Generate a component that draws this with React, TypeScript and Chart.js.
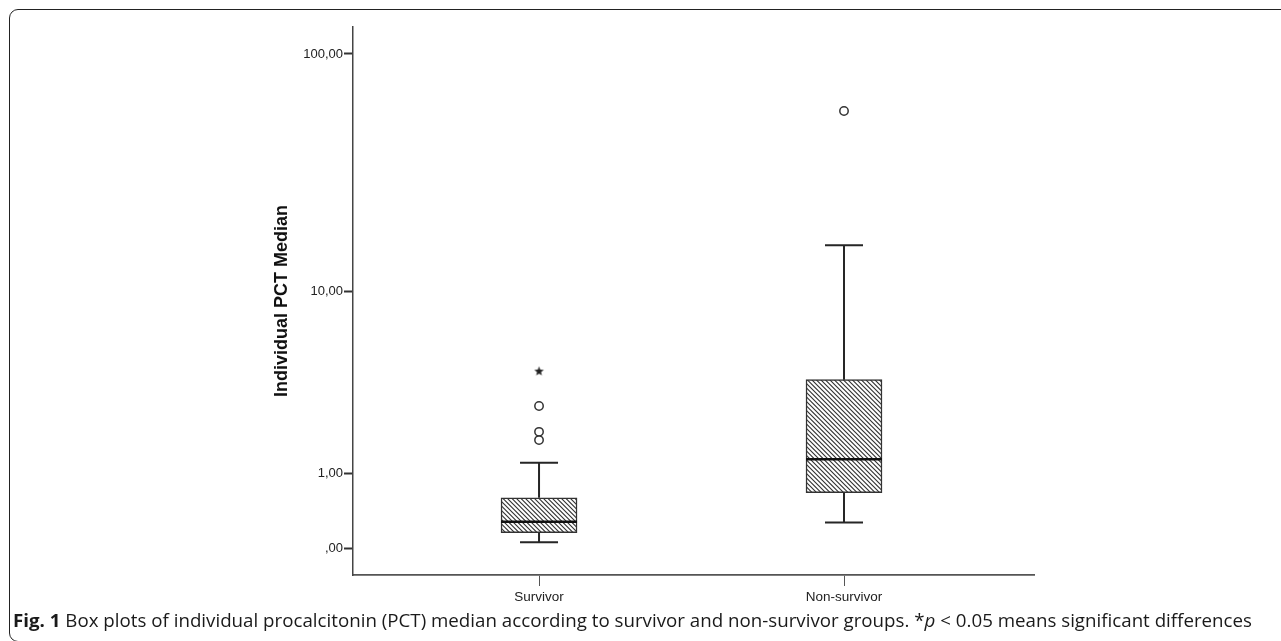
import React, { useEffect, useRef } from 'react';
import { Chart, registerables } from 'chart.js';

Chart.register(...registerables);

// ---- data (values in original units) ----
const categories = ['Survivor', 'Non-survivor'];
const q1 = [0.153, 0.675];
const medians = [0.278, 1.29];
const q3 = [0.598, 3.82];
const whiskerLow = [0.055, 0.27];
const whiskerHigh = [1.22, 15.9];
const outliersCircle = [[2.77, 1.96, 1.74], [58.3]];
const outliersStar = [[4.22], []];
const yTickValues = [0, 1, 10, 100];
const yTickLabels = [',00', '1,00', '10,00', '100,00'];

// SPSS-style log(x + 1) axis
const t = (v: number) => Math.log10(v + 1);

function makeHatch(): CanvasPattern | string {
  const s = 9;
  const c = document.createElement('canvas');
  c.width = s;
  c.height = s;
  const g = c.getContext('2d');
  if (!g) return '#fff';
  g.fillStyle = '#ffffff';
  g.fillRect(0, 0, s, s);
  g.strokeStyle = '#333';
  g.lineWidth = 1.15;
  g.beginPath();
  for (const k of [-9, -4.5, 0, 4.5, 9]) {
    g.moveTo(k - 1, -1);
    g.lineTo(k + s + 1, s + 1);
  }
  g.stroke();
  return g.createPattern(c, 'repeat') || '#fff';
}

function makeStar(): HTMLCanvasElement {
  const s = 11;
  const c = document.createElement('canvas');
  c.width = s;
  c.height = s;
  const g = c.getContext('2d');
  if (g) {
    g.fillStyle = '#222';
    g.beginPath();
    for (let i = 0; i < 10; i++) {
      const r = i % 2 === 0 ? 5 : 2.1;
      const a = -Math.PI / 2 + (i * Math.PI) / 5;
      const px = 5.5 + r * Math.cos(a);
      const py = 5.8 + r * Math.sin(a);
      if (i === 0) g.moveTo(px, py);
      else g.lineTo(px, py);
    }
    g.closePath();
    g.fill();
  }
  return c;
}

const boxPlugin = {
  id: 'boxWhiskers',
  afterDatasetsDraw(chart: any) {
    const { ctx, scales } = chart;
    const x = scales.x;
    const y = scales.y;
    ctx.save();
    categories.forEach((_, i) => {
      const cx = x.getPixelForValue(i + 1);
      const capHalf = 19;
      const boxHalf = 38;
      const yQ1 = y.getPixelForValue(t(q1[i]));
      const yQ3 = y.getPixelForValue(t(q3[i]));
      const yLo = y.getPixelForValue(t(whiskerLow[i]));
      const yHi = y.getPixelForValue(t(whiskerHigh[i]));
      const yMed = y.getPixelForValue(t(medians[i]));
      ctx.strokeStyle = '#262626';
      ctx.lineWidth = 2;
      ctx.beginPath();
      ctx.moveTo(cx, yQ3);
      ctx.lineTo(cx, yHi);
      ctx.moveTo(cx - capHalf, yHi);
      ctx.lineTo(cx + capHalf, yHi);
      ctx.moveTo(cx, yQ1);
      ctx.lineTo(cx, yLo);
      ctx.moveTo(cx - capHalf, yLo);
      ctx.lineTo(cx + capHalf, yLo);
      ctx.stroke();
      ctx.strokeStyle = '#111';
      ctx.lineWidth = 2.5;
      ctx.beginPath();
      ctx.moveTo(cx - boxHalf, yMed);
      ctx.lineTo(cx + boxHalf, yMed);
      ctx.stroke();
    });
    ctx.restore();
  },
};

export default function App() {
  const canvasRef = useRef<HTMLCanvasElement>(null);
  const capRef = useRef<HTMLDivElement>(null);

  useEffect(() => {
    document.body.style.overflow = 'hidden';
    const cap = capRef.current;
    if (cap) {
      cap.style.transform = 'none';
      const w = cap.getBoundingClientRect().width;
      if (w > 0) cap.style.transform = `scaleX(${1239 / w})`;
    }
    const canvas = canvasRef.current;
    if (!canvas) return;

    const hatch = makeHatch();
    const star = makeStar();

    const boxData = categories.map((_, i) => ({ x: i + 1, y: [t(q1[i]), t(q3[i])] }));
    const circleData = categories.flatMap((_, i) =>
      outliersCircle[i].map((v) => ({ x: i + 1, y: t(v) }))
    );
    const starData = categories.flatMap((_, i) =>
      outliersStar[i].map((v) => ({ x: i + 1, y: t(v) }))
    );

    const chart = new Chart(canvas, {
      type: 'bar',
      data: {
        datasets: [
          {
            type: 'bar',
            label: 'box',
            data: boxData as any,
            backgroundColor: hatch as any,
            borderColor: '#333',
            borderWidth: 1.5,
            borderSkipped: false,
            barThickness: 76,
          } as any,
          {
            type: 'scatter',
            label: 'outliers',
            data: circleData as any,
            pointStyle: 'circle',
            pointRadius: 4.2,
            pointBackgroundColor: '#fff',
            pointBorderColor: '#333',
            pointBorderWidth: 1.5,
          } as any,
          {
            type: 'scatter',
            label: 'extremes',
            data: starData as any,
            pointStyle: star,
            pointRadius: 5,
          } as any,
        ],
      },
      options: {
        animation: false,
        responsive: false,
        layout: { padding: { left: 0, top: 27, right: 247, bottom: 0 } },
        plugins: {
          legend: { display: false },
          tooltip: { enabled: false },
        },
        scales: {
          x: {
            type: 'linear',
            min: 0.39,
            max: 2.623,
            offset: false,
            grid: {
              display: true,
              drawOnChartArea: false,
              drawTicks: true,
              tickLength: 11,
              tickColor: '#555',
              tickWidth: 1,
              offset: false,
            },
            border: { display: true, color: '#555', width: 1.8 },
            afterBuildTicks: (scale: any) => {
              scale.ticks = categories.map((_, i) => ({ value: i + 1 }));
            },
            afterFit: (scale: any) => {
              scale.height = 66;
            },
            ticks: {
              autoSkip: false,
              maxRotation: 0,
              padding: 3,
              color: '#222',
              font: { family: '"Liberation Sans", Arial, sans-serif', size: 13.5 },
              callback: (_v: any, i: number) => categories[i],
            },
          },
          y: {
            type: 'linear',
            min: -0.1095,
            max: 2.1136,
            grid: {
              display: true,
              drawOnChartArea: false,
              drawTicks: true,
              tickLength: 9,
              tickColor: '#333',
              tickWidth: 2,
            },
            border: { display: true, color: '#444', width: 1.5 },
            afterBuildTicks: (scale: any) => {
              scale.ticks = yTickValues.map((v) => ({ value: t(v) }));
            },
            afterFit: (scale: any) => {
              scale.width = 353;
            },
            ticks: {
              autoSkip: false,
              padding: 1,
              color: '#222',
              font: { family: '"Liberation Sans", Arial, sans-serif', size: 13 },
              callback: (_v: any, i: number) => yTickLabels[i],
            },
            title: {
              display: true,
              text: 'Individual PCT Median',
              color: '#111',
              font: { family: '"Liberation Sans", Arial, sans-serif', size: 18, weight: 'bold' },
              padding: { top: 271, bottom: 0 },
            },
          },
        },
      } as any,
      plugins: [boxPlugin],
    });

    return () => chart.destroy();
  }, []);

  return (
    <div>
      <div
        style={{
          position: 'fixed',
          left: 9,
          top: 9,
          width: 1400,
          height: 633,
          boxSizing: 'border-box',
          border: '1.5px solid #222',
          borderRadius: 9,
        }}
      />
      <canvas
        ref={canvasRef}
        width={1281}
        height={641}
        style={{ position: 'fixed', left: 0, top: 0, width: 1281, height: 641 }}
      />
      <div
        ref={capRef}
        style={{
          position: 'fixed',
          left: 13,
          top: 611,
          display: 'inline-block',
          whiteSpace: 'nowrap',
          transformOrigin: '0 0',
          fontFamily: '"Open Sans", "Noto Sans", sans-serif',
          fontSize: 18,
          lineHeight: '18px',
          color: '#1a1a1a',
        }}
      >
        <b>Fig. 1</b> Box plots of individual procalcitonin (PCT) median according to survivor and
        non-survivor groups. *<i>p</i> &lt; 0.05 means significant differences
      </div>
    </div>
  );
}
